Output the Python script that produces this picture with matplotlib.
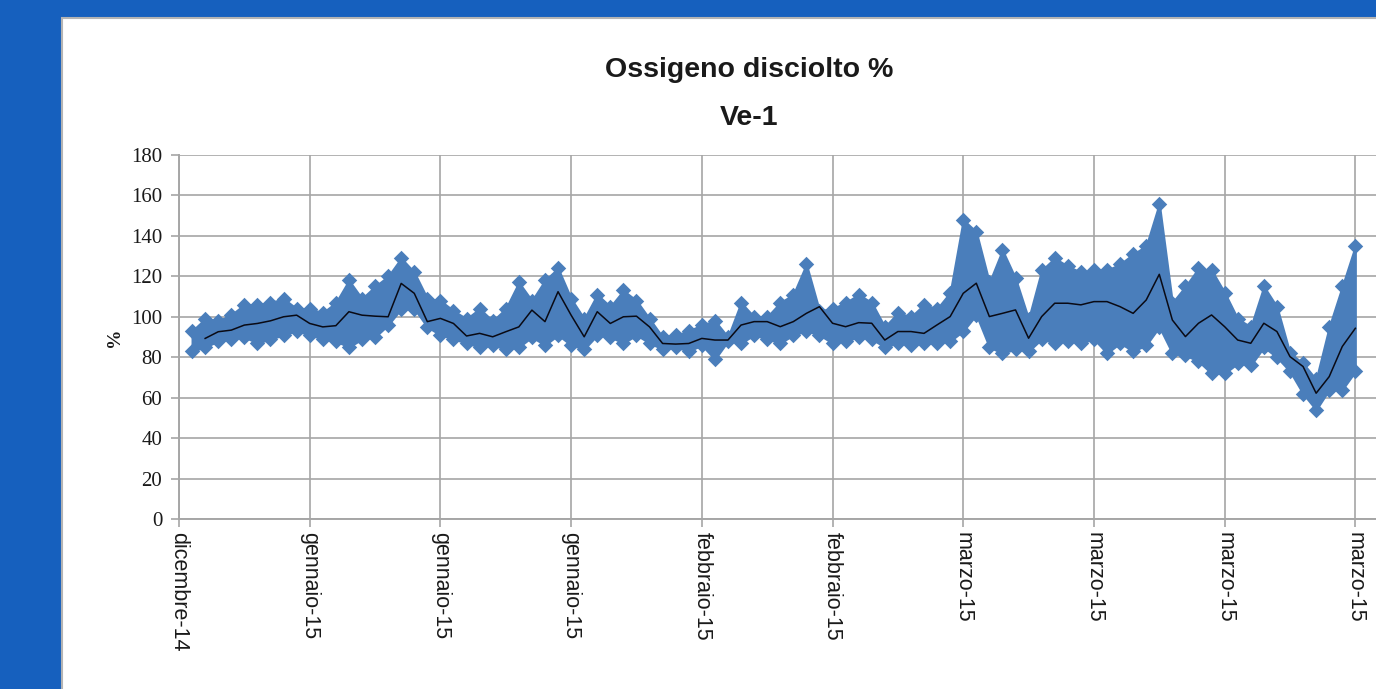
import numpy as np
import matplotlib.pyplot as plt
from matplotlib.patches import Rectangle

# dissolved oxygen %, daily range of the readings (days after 31 Dec 2014)
band_days = np.arange(1, 91)
high = [93, 99, 98, 101, 106, 106, 107, 109, 104, 104,
        102, 107, 118, 109, 115, 120, 129, 122, 109, 108,
        103, 99, 104, 98, 104, 117, 108, 118, 124, 109,
        99, 111, 105, 113, 108, 99, 90, 91, 93, 96,
        98, 90, 107, 100, 100, 107, 111, 126, 103, 104,
        107, 111, 107, 95, 102, 100, 106, 104, 112, 148,
        142, 117, 133, 119, 99, 123, 129, 125, 122, 123,
        123, 126, 131, 135, 156, 107, 115, 124, 123, 112,
        99, 95, 115, 105, 82, 77, 69, 95, 115, 135]
low = [83, 85, 88, 89, 90, 87, 89, 91, 93, 91,
       89, 88, 85, 89, 90, 96, 104, 104, 95, 91,
       89, 87, 85, 86, 84, 85, 90, 86, 91, 86,
       84, 91, 90, 87, 91, 87, 84, 85, 83, 86,
       79, 88, 87, 91, 89, 87, 91, 93, 91, 87,
       88, 90, 89, 85, 87, 86, 87, 87, 88, 93,
       101, 85, 82, 84, 83, 89, 87, 88, 87, 89,
       82, 87, 83, 86, 95, 82, 81, 78, 72, 72,
       77, 76, 85, 80, 73, 62, 54, 64, 64, 73]

# moving average (black line)
avg_days = np.arange(2, 91)
avg = [89.3, 92.6, 93.4, 95.9, 96.7, 98, 100, 100.8, 96.7, 95,
       95.6, 102.5, 100.8, 100.3, 100, 116.5, 111.6, 97.6, 99.2, 96.7,
       90.5, 91.8, 90.1, 92.6, 95, 103.3, 97.6, 112.4, 100.8, 90.1,
       102.5, 96.7, 100, 100.3, 95, 86.8, 86.5, 86.8, 89.3, 88.5,
       88.5, 95.9, 97.6, 97.6, 95.1, 97.6, 101.7, 105, 96.8, 95.1,
       97.1, 96.8, 88.5, 92.7, 92.7, 91.8, 96, 100.1, 111.6, 116.6,
       100.1, 101.7, 103.4, 89.4, 100.1, 106.7, 106.7, 105.9, 107.5, 107.5,
       105, 101.7, 108.3, 121, 98.4, 90.2, 96.8, 100.9, 95.1, 88.5,
       86.9, 96.8, 92.7, 80.3, 75.4, 62.2, 70.4, 85.3, 94.3]

tick_days = [0, 10, 20, 30, 40, 50, 60, 70, 80, 90]
tick_labels = ['dicembre-14', 'gennaio-15', 'gennaio-15', 'gennaio-15',
               'febbraio-15', 'febbraio-15', 'marzo-15', 'marzo-15',
               'marzo-15', 'marzo-15']

blue = '#4a7ebb'
grid = '#a6a6a6'

fig = plt.figure(figsize=(13.76, 6.89), dpi=100, facecolor='#1660be')
fig.patches.append(Rectangle((62 / 1376, -0.05), 1.0, (689 - 18) / 689 + 0.05,
                             transform=fig.transFigure, facecolor='white',
                             edgecolor='#b4b4b4', lw=1.5, zorder=0))

ax = fig.add_axes([179 / 1376, 170 / 689, 1243 / 1376, 364 / 689])
ax.set_zorder(2)
ax.set_facecolor('white')

ax.fill_between(band_days, low, high, facecolor=blue, edgecolor=blue, lw=1.5, zorder=2)
ax.scatter(band_days, high, marker='D', s=62, color=blue, lw=0, zorder=3)
ax.scatter(band_days, low, marker='D', s=62, color=blue, lw=0, zorder=3)
ax.plot(avg_days, avg, color='#0a0a14', lw=1.1, zorder=4)

ax.set_xlim(0, 95.1)
ax.set_ylim(0, 180)
ax.set_yticks(range(0, 181, 20))
ax.set_xticks(tick_days)
ax.set_xticklabels(tick_labels, rotation=270, fontfamily='Liberation Sans',
                   fontsize=15.5, color='#1a1a1a')
for lab in ax.get_yticklabels():
    lab.set_fontfamily('Liberation Serif')
    lab.set_fontsize(15)
    lab.set_color('#1a1a1a')

ax.grid(color=grid, lw=1.2)
ax.set_axisbelow(True)
for side in ['top', 'right']:
    ax.spines[side].set_visible(False)
for side in ['left', 'bottom']:
    ax.spines[side].set_color(grid)
    ax.spines[side].set_linewidth(1.4)
ax.tick_params(axis='both', color=grid, length=6, width=1.2)
ax.tick_params(axis='x', pad=3)
ax.tick_params(axis='y', pad=6)

ax.set_ylabel('%', fontsize=14, fontweight='bold', fontfamily='Liberation Serif',
              labelpad=6, color='#1a1a1a')

fig.text(749 / 1376, 1 - 70 / 689, 'Ossigeno disciolto %', ha='center', va='center',
         fontsize=20.5, fontweight='bold', fontfamily='Liberation Sans', color='#1a1a1a')
fig.text(749 / 1376, 1 - 118 / 689, 'Ve-1', ha='center', va='center',
         fontsize=20.5, fontweight='bold', fontfamily='Liberation Sans', color='#1a1a1a')

fig.savefig('out.png', dpi=100, facecolor=fig.get_facecolor())
